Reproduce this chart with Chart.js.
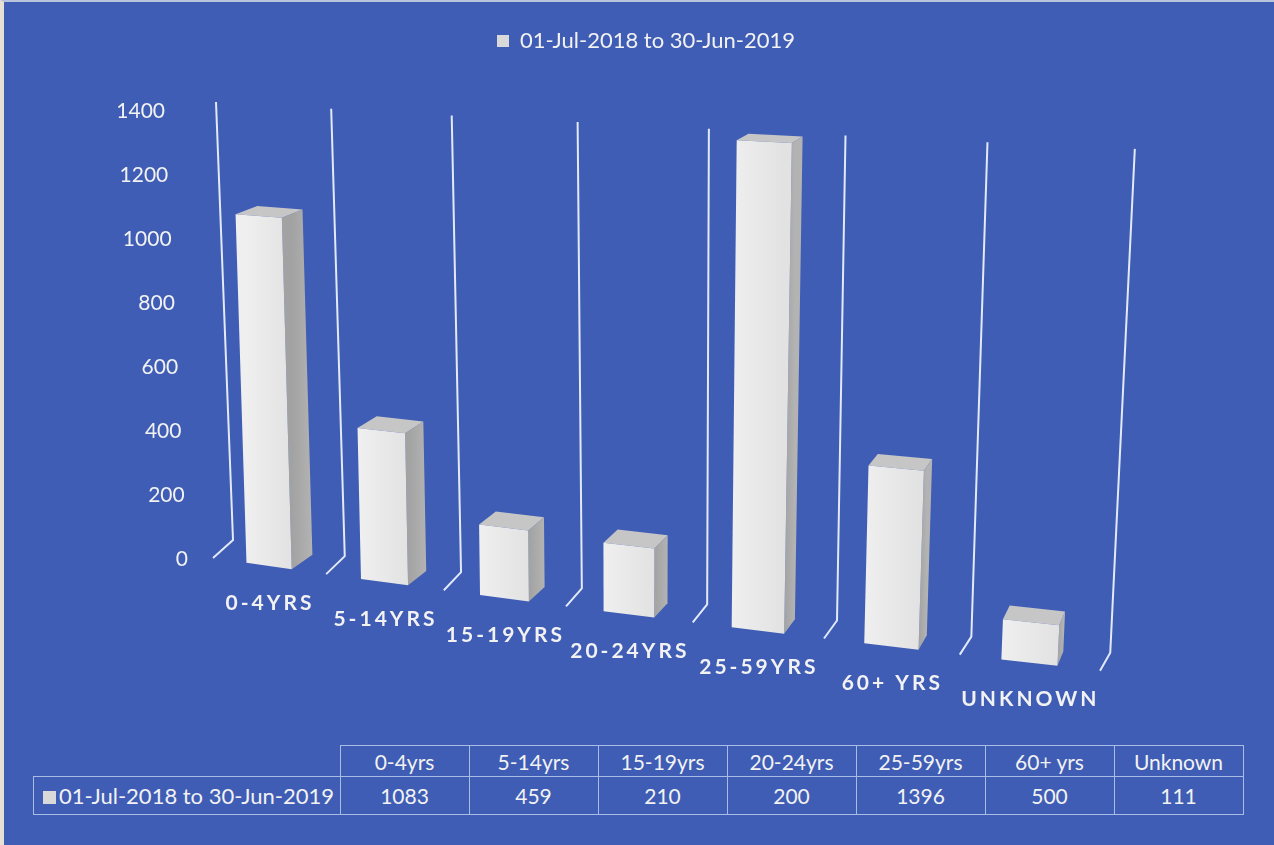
<!DOCTYPE html>
<html>
<head>
    <meta charset="UTF-8" />
    <title>Cases by age group, 01-Jul-2018 to 30-Jun-2019</title>
    <script src="https://cdn.jsdelivr.net/npm/chart.js"></script>
    <style>
        html, body { margin: 0; padding: 0; }
        body {
            width: 1274px; height: 845px; overflow: hidden; position: relative;
            background: #3f5db5; color: #f2f2f2;
            font-family: Lato, "Open Sans", sans-serif;
        }
        #frame {
            position: absolute; left: 0; top: 0; width: 1274px; height: 845px;
            box-sizing: border-box; border-left: 4px solid #e6e1d3; border-top: 2px solid #b9c4dc;
            pointer-events: none;
        }
        #chartBox { position: absolute; left: 0; top: 0; width: 1274px; height: 740px; }
        #dataTable {
            position: absolute; left: 33px; top: 745px;
            border-collapse: collapse; font-size: 21px; color: #f2f2f2;
        }
        #dataTable td { border: 1px solid #a9bce6; text-align: center; width: 128px; padding: 0; }
        #dataTable tr.head td { height: 30px; }
        #dataTable tr.vals td { height: 37px; }
        #dataTable td.blank { border: none; width: 306px; }
        #dataTable td.series { text-align: left; padding-left: 9px; white-space: nowrap; font-size: 22px; }
        .key { display: inline-block; width: 13px; height: 13px; background: #d9d9d9; margin-right: 3px; vertical-align: 0; }
    </style>
</head>
<body>
    <div id="chartBox"><canvas id="ageChart"></canvas></div>
    <table id="dataTable">
        <tr class="head" id="headRow"><td class="blank"></td></tr>
        <tr class="vals" id="valueRow"></tr>
    </table>
    <div id="frame"></div>

    <script type="text/javascript">
        const categories = ['0-4yrs', '5-14yrs', '15-19yrs', '20-24yrs', '25-59yrs', '60+ yrs', 'Unknown'];
        const seriesName = '01-Jul-2018 to 30-Jun-2019';
        const counts = [1083, 459, 210, 200, 1396, 500, 111];
        const yTicks = [0, 200, 400, 600, 800, 1000, 1200, 1400];

        // rough stand-in for Excel's 3-D perspective (screen positions of back wall and floor)
        const view = {
            bottomX: 233, bottomY: 540, bottomStep: 109.5, bottomSpread: 2.26, bottomDrop: 16.1,
            topX: 216, topY: 102, topStep: 112.5, topSpread: 2.68, topDrop: 6.7,
            depthX: -20, depthXStep: 1.4, depthY: 18,
            // the boxes look deeper sideways than the floor lines
            barDepthX: -28, barDepthXStep: 3.1, barDepth: 0.8
        };

        // u = position in category slots, t = share of the value axis, z = 0 front .. 1 back wall
        function project(u, t, z) {
            const bx = view.bottomX + view.bottomStep * u + view.bottomSpread * u * u;
            const by = view.bottomY + view.bottomDrop * u;
            const tx = view.topX + view.topStep * u + view.topSpread * u * u;
            const ty = view.topY + view.topDrop * u;
            const f = 1 - z;
            const dx = (view.depthX + view.depthXStep * u) * (1 - 0.1 * t) * f;
            const dy = view.depthY * (1 - 0.55 * t) * f;
            return [bx + (tx - bx) * t + dx, by + (ty - by) * t + dy];
        }

        // point pushed back from the front of a bar
        function pushBack(p, u, t, z) {
            const dx = -(view.barDepthX + view.barDepthXStep * u) * z;
            const dy = -view.depthY * (1 - 0.55 * t) * z;
            return [p[0] + dx, p[1] + dy];
        }

        function face(ctx, pts, fill) {
            ctx.beginPath();
            ctx.moveTo(pts[0][0], pts[0][1]);
            for (let i = 1; i < pts.length; i++) ctx.lineTo(pts[i][0], pts[i][1]);
            ctx.closePath();
            ctx.fillStyle = fill;
            ctx.fill();
        }

        const perspective3d = {
            id: 'perspective3d',
            beforeDatasetsDraw(chart) {
                const ctx = chart.ctx;
                const xs = chart.scales.x, ys = chart.scales.y;
                const slot = (xs.right - xs.left) / categories.length;
                const toU = px => (px - xs.left) / slot;
                const toT = py => (ys.bottom - py) / (ys.bottom - ys.top);

                ctx.save();

                // category gridlines: up the back wall, then forward across the floor
                ctx.strokeStyle = '#e2e9f8';
                ctx.lineWidth = 2;
                for (let k = 0; k <= categories.length; k++) {
                    const u = k < categories.length ? toU(xs.getPixelForValue(k)) - 0.5 : toU(xs.getPixelForValue(k - 1)) + 0.5;
                    const a = project(u, 1, 1), b = project(u, 0, 1), c = project(u, 0, 0);
                    ctx.beginPath();
                    ctx.moveTo(a[0], a[1]);
                    ctx.lineTo(b[0], b[1]);
                    ctx.lineTo(c[0], c[1]);
                    ctx.stroke();
                }

                // bars as boxes
                const meta = chart.getDatasetMeta(0);
                meta.data.forEach(bar => {
                    const u0 = toU(bar.x - bar.width / 2), u1 = toU(bar.x + bar.width / 2);
                    const t0 = toT(bar.base), t1 = toT(bar.y);
                    const d = view.barDepth;
                    const fbl = project(u0, t0, 0), fbr = project(u1, t0, 0);
                    const ftl = project(u0, t1, 0), ftr = project(u1, t1, 0);
                    const bbr = pushBack(fbr, u1, t0, d), btr = pushBack(ftr, u1, t1, d), btl = pushBack(ftl, u0, t1, d);

                    const side = ctx.createLinearGradient(fbr[0], 0, bbr[0], 0);
                    side.addColorStop(0, '#a2a2a2');
                    side.addColorStop(1, '#b3b3b3');
                    face(ctx, [fbr, bbr, btr, ftr], side);

                    face(ctx, [ftl, ftr, btr, btl], '#c6c6c6');

                    const front = ctx.createLinearGradient(fbl[0], 0, fbr[0], 0);
                    front.addColorStop(0, '#efefef');
                    front.addColorStop(1, '#e2e2e2');
                    face(ctx, [fbl, fbr, ftr, ftl], front);
                });

                // value labels along the left wall
                ctx.fillStyle = '#f2f2f2';
                ctx.font = '21px Lato, "Open Sans", sans-serif';
                ctx.textAlign = 'right';
                ctx.textBaseline = 'middle';
                yTicks.forEach(v => {
                    const t = toT(ys.getPixelForValue(v));
                    const p = project(toU(xs.left), t, 0);
                    ctx.fillText(String(v), p[0] - 25 - 8 * t, p[1] + 1);
                });

                // category labels in front of the floor
                ctx.textAlign = 'center';
                ctx.font = 'bold 21px Lato, "Open Sans", sans-serif';
                ctx.letterSpacing = '3px';
                categories.forEach((c, i) => {
                    const p = project(toU(xs.getPixelForValue(i)), 0, 0);
                    ctx.fillText(c.toUpperCase(), p[0] + 1, p[1] + 37);
                });

                ctx.restore();
                return false;
            }
        };

        function buildTable() {
            const head = document.getElementById('headRow');
            const vals = document.getElementById('valueRow');
            const label = document.createElement('td');
            label.className = 'series';
            label.innerHTML = '<span class="key"></span>' + seriesName;
            vals.appendChild(label);
            categories.forEach((c, i) => {
                const h = document.createElement('td');
                h.textContent = c;
                head.appendChild(h);
                const v = document.createElement('td');
                v.textContent = counts[i];
                vals.appendChild(v);
            });
        }

        function initChart() {
            const ctx = document.getElementById('ageChart').getContext('2d');
            new Chart(ctx, {
                type: 'bar',
                data: {
                    labels: categories,
                    datasets: [{
                        label: seriesName,
                        data: counts,
                        backgroundColor: '#d9d9d9',
                        borderWidth: 0,
                        barPercentage: 0.4,
                        categoryPercentage: 1
                    }]
                },
                options: {
                    responsive: true,
                    maintainAspectRatio: false,
                    animation: false,
                    layout: { padding: { top: 20, left: 168, right: 150, bottom: 200 } },
                    scales: {
                        x: { display: false },
                        y: { display: false, min: 0, max: 1400 }
                    },
                    plugins: {
                        legend: {
                            position: 'top',
                            labels: {
                                color: '#f2f2f2',
                                font: { family: 'Lato', size: 22 },
                                boxWidth: 12,
                                boxHeight: 12,
                                padding: 10
                            }
                        },
                        tooltip: { enabled: false }
                    }
                },
                plugins: [perspective3d]
            });
        }

        buildTable();
        initChart();
    </script>
</body>
</html>
